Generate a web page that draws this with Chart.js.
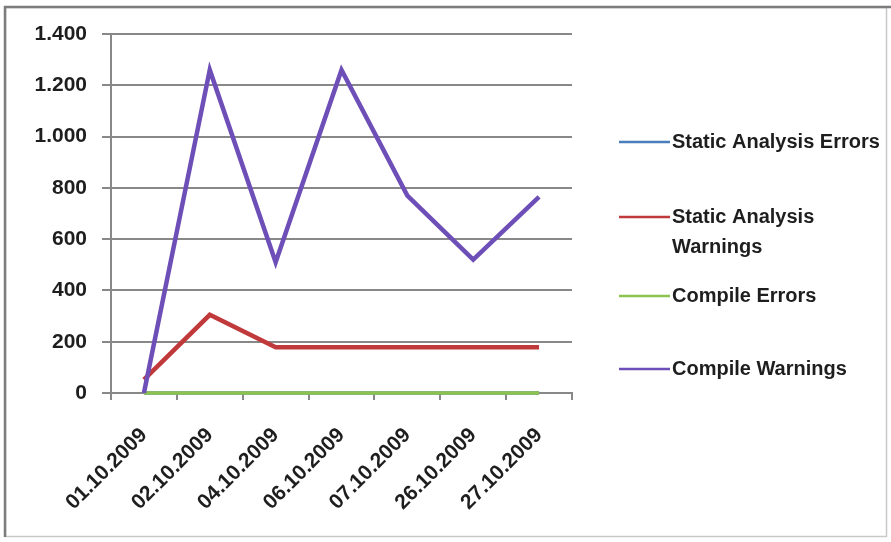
<!DOCTYPE html>
<html>
<head>
<meta charset="utf-8">
<script src="https://cdn.jsdelivr.net/npm/chart.js@4"></script>
<style>
  html, body { margin: 0; padding: 0; background: #fff; }
  #wrap { position: relative; width: 891px; height: 542px; }
</style>
</head>
<body>
<div id="wrap"><canvas id="chart" width="891" height="542"></canvas></div>
<script>
// categories and values
const dates = ['01.10.2009', '02.10.2009', '04.10.2009', '06.10.2009', '07.10.2009', '26.10.2009', '27.10.2009'];
const seriesNames = ['Static Analysis Errors', ['Static Analysis', 'Warnings'], 'Compile Errors', 'Compile Warnings'];
const staticErrors = [0, 0, 0, 0, 0, 0, 0];
const staticWarnings = [52, 305, 178, 178, 178, 178, 178];
const compileErrors = [0, 0, 0, 0, 0, 0, 0];
const compileWarnings = [0, 1260, 510, 1260, 770, 520, 765];
const yMax = 1400;
const yStep = 200;

const colors = ['#4a7ebb', '#c0393b', '#8cc34f', '#6e4fb8'];
const tickFont = { family: '"Liberation Sans", Arial, sans-serif', size: 21, weight: 'bold' };

// thousands with a dot, like the German Excel original
function fmt(v) {
    return String(v).replace(/\B(?=(\d{3})+(?!\d))/g, '.');
}

// frame around the whole chart
const framePlugin = {
    id: 'frame',
    beforeDraw(chart) {
        const ctx = chart.ctx;
        ctx.save();
        ctx.fillStyle = '#fff';
        ctx.fillRect(0, 0, chart.width, chart.height);
        ctx.strokeStyle = '#c8c8c8';
        ctx.lineWidth = 1.5;
        ctx.strokeRect(5.5, 7.5, 881, 529);
        ctx.strokeStyle = '#7c7c7c';
        ctx.lineWidth = 2.5;
        ctx.beginPath();
        ctx.moveTo(5, 537);
        ctx.lineTo(5, 7);
        ctx.lineTo(891, 7);
        ctx.stroke();
        ctx.restore();
    }
};

// legend on the right, drawn by hand so the second label can wrap
const legendPlugin = {
    id: 'sideLegend',
    afterDraw(chart) {
        const ctx = chart.ctx;
        const rows = [142, 217, 296, 369];
        ctx.save();
        ctx.font = 'bold 20px "Liberation Sans", Arial, sans-serif';
        ctx.textBaseline = 'middle';
        ctx.textAlign = 'left';
        chart.data.datasets.forEach((ds, i) => {
            const y = rows[i];
            ctx.strokeStyle = ds.borderColor;
            ctx.lineWidth = 2.5;
            ctx.beginPath();
            ctx.moveTo(619, y);
            ctx.lineTo(670, y);
            ctx.stroke();
            ctx.fillStyle = '#1e1e1e';
            const lines = Array.isArray(ds.label) ? ds.label : [ds.label];
            lines.forEach((t, j) => ctx.fillText(t, 672, y + j * 30));
        });
        ctx.restore();
    }
};

const seriesData = [staticErrors, staticWarnings, compileErrors, compileWarnings];
const widths = [3.5, 4.5, 3.5, 4.5];
const orders = [3, 1, 2, 0];

new Chart(document.getElementById('chart'), {
    type: 'line',
    data: {
        labels: dates,
        datasets: seriesData.map((d, i) => ({
            label: seriesNames[i],
            data: d,
            borderColor: colors[i],
            backgroundColor: colors[i],
            borderWidth: widths[i],
            pointRadius: 0,
            tension: 0,
            fill: false,
            clip: 6,
            order: orders[i]
        }))
    },
    options: {
        responsive: false,
        animation: false,
        layout: { padding: { top: 34, right: 319, left: 0, bottom: 0 } },
        plugins: {
            legend: { display: false },
            tooltip: { enabled: false }
        },
        scales: {
            x: {
                offset: true,
                grid: { offset: true, drawOnChartArea: false, drawTicks: true, tickLength: 7, color: '#888', lineWidth: 2 },
                border: { color: '#888', width: 2 },
                ticks: { maxRotation: 45, minRotation: 45, padding: 23, font: tickFont, color: '#1e1e1e', autoSkip: false },
                afterFit(scale) { scale.height = 149; }
            },
            y: {
                min: 0,
                max: yMax,
                grid: { color: '#888', lineWidth: 2, tickLength: 9 },
                border: { color: '#888', width: 2 },
                ticks: { stepSize: yStep, padding: 15, font: tickFont, color: '#1e1e1e', callback: v => fmt(v) },
                afterFit(scale) { scale.width = 111; }
            }
        }
    },
    plugins: [framePlugin, legendPlugin]
});
</script>
</body>
</html>
